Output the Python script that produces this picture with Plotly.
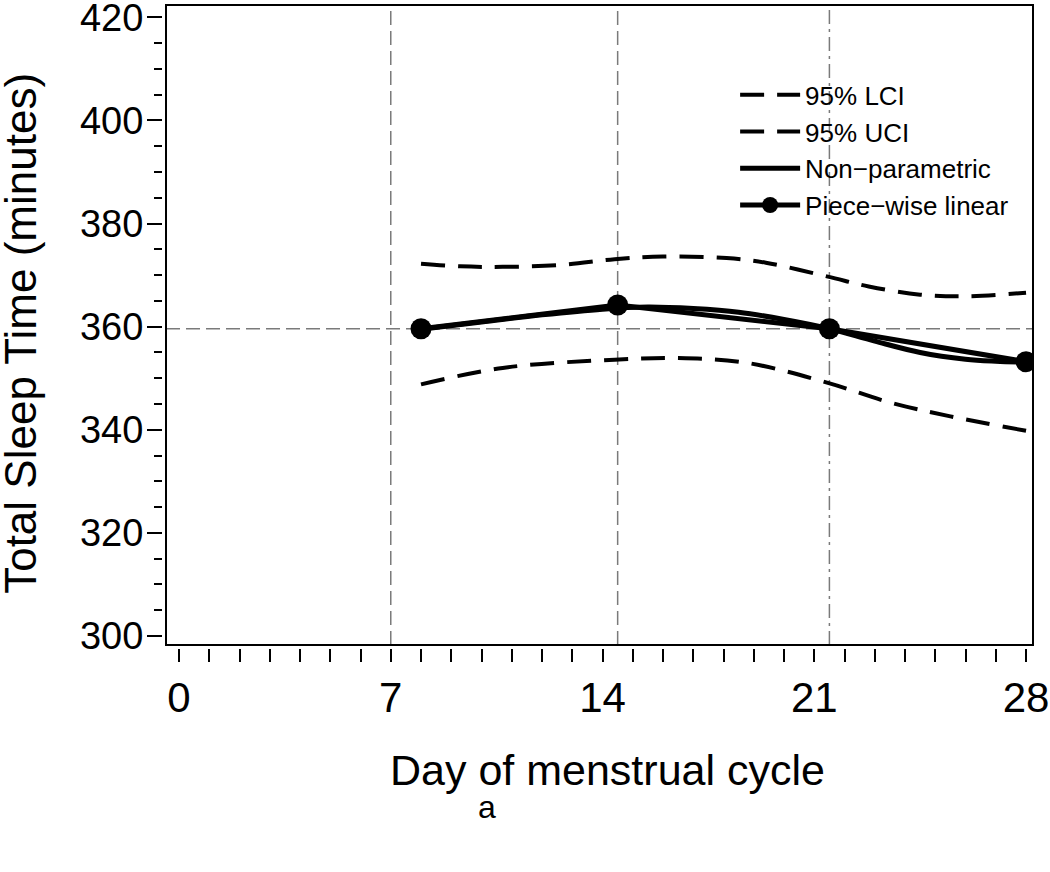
import plotly.graph_objects as go

# ---- data ----
ci_days = [8, 9.3, 10.7, 12.7, 14.4, 16.0, 18.1, 19.4, 21.45, 22.8, 24.5, 26.1, 28]
uci = [372.2, 371.7, 371.6, 372.0, 373.1, 373.6, 373.3, 372.4, 369.7, 367.8, 366.2, 365.9, 366.6]
lci_days = [8, 10.7, 14.4, 16.5, 18.75, 21.45, 23.5, 25.5, 28]
lci = [348.8, 352.0, 353.6, 353.9, 353.0, 349.1, 345.3, 342.6, 339.8]

np_days = [8, 10, 12, 14, 15.5, 17, 18.5, 20, 21.5, 23, 24.5, 26, 27, 28]
np_vals = [359.5, 360.9, 362.3, 363.4, 363.8, 363.5, 362.8, 361.4, 359.6, 357.2, 355.0, 353.7, 353.3, 353.1]

pw_days = [8, 14.5, 21.5, 28]
pw_vals = [359.6, 364.2, 359.6, 353.2]

ref_days = [7, 14.5, 21.5]
ref_level = 359.6

x_ticks = [0, 7, 14, 21, 28]
y_ticks = [300, 320, 340, 360, 380, 400, 420]

FONT = "Liberation Sans, Arial, sans-serif"

fig = go.Figure()
fig.add_trace(go.Scatter(x=lci_days, y=lci, mode="lines", name="95% LCI",
                         line=dict(color="black", width=4, dash="24px,13px"), line_shape="spline"))
fig.add_trace(go.Scatter(x=ci_days, y=uci, mode="lines", name="95% UCI",
                         line=dict(color="black", width=4, dash="24px,13px"), line_shape="spline"))
fig.add_trace(go.Scatter(x=np_days, y=np_vals, mode="lines", name="Non\u2212parametric",
                         line=dict(color="black", width=5), line_shape="spline"))
fig.add_trace(go.Scatter(x=pw_days, y=pw_vals, mode="lines+markers", name="Piece\u2212wise linear",
                         line=dict(color="black", width=5),
                         marker=dict(color="black", size=21)))

# reference lines
for i, d in enumerate(ref_days):
    fig.add_shape(type="line", xref="x", yref="y domain", x0=d, x1=d, y0=0, y1=1,
                  line=dict(color="#7a7a7a", width=1.5,
                            dash="14px,5px,3px,5px" if i == 2 else "14px,6px"), layer="below")
fig.add_shape(type="line", xref="x domain", yref="y", x0=0, x1=1, y0=ref_level, y1=ref_level,
              line=dict(color="#7a7a7a", width=1.5, dash="14px,6px"), layer="below")
# frame
fig.add_shape(type="rect", xref="x domain", yref="y domain", x0=0, x1=1, y0=0, y1=1,
              line=dict(color="black", width=2))

# titles as annotations
fig.add_annotation(text="Day of menstrual cycle", xref="paper", yref="paper",
                   x=0.512, y=-0.19, showarrow=False, xanchor="center", yanchor="middle",
                   font=dict(size=43, color="black", family=FONT))
fig.add_annotation(text="Total Sleep Time (minutes)", xref="paper", yref="paper",
                   x=-0.162, y=0.49, showarrow=False, xanchor="center", yanchor="middle",
                   textangle=-90, font=dict(size=44, color="black", family=FONT))
fig.add_annotation(text="a", xref="paper", yref="paper",
                   x=0.373, y=-0.248, showarrow=False, xanchor="center", yanchor="middle",
                   font=dict(size=32, color="black", family=FONT))

fig.update_layout(
    width=1050, height=872,
    margin=dict(l=162, r=17, t=5, b=224, autoexpand=False),
    paper_bgcolor="white", plot_bgcolor="white",
    font=dict(family=FONT, color="black"),
    showlegend=True,
    legend=dict(x=0.658, y=0.897, xanchor="left", yanchor="top",
                bgcolor="rgba(0,0,0,0)", font=dict(size=26, color="black", family=FONT),
                itemwidth=60, tracegroupgap=0),
    xaxis=dict(domain=[0.0046, 1], range=[-0.43, 28.23], anchor="free", position=0,
               automargin=False, ticklabeloverflow="allow",
               showgrid=False, zeroline=False, showline=False,
               tickmode="array", tickvals=x_ticks, ticktext=[str(v) for v in x_ticks],
               ticks="outside", ticklen=13, tickwidth=2, tickcolor="black",
               tickfont=dict(size=42, family=FONT, color="black"),
               minor=dict(dtick=1, tick0=0, ticks="outside", ticklen=13, tickwidth=2,
                          tickcolor="black", showgrid=False)),
    yaxis=dict(domain=[0.0047, 1], range=[298.25, 422.4], anchor="free", position=0,
               automargin=False, ticklabeloverflow="allow", ticklabelstandoff=-4,
               showgrid=False, zeroline=False, showline=False,
               tickmode="array", tickvals=y_ticks, ticktext=[str(v) for v in y_ticks],
               ticks="outside", ticklen=15, tickwidth=2, tickcolor="black",
               tickfont=dict(size=38, family=FONT, color="black"),
               minor=dict(dtick=5, tick0=300, ticks="outside", ticklen=8, tickwidth=2,
                          tickcolor="black", showgrid=False)),
)

fig.write_html("out.html", config={"displayModeBar": False},
               post_script="document.body.style.margin='0px';document.body.style.overflow='hidden';")
